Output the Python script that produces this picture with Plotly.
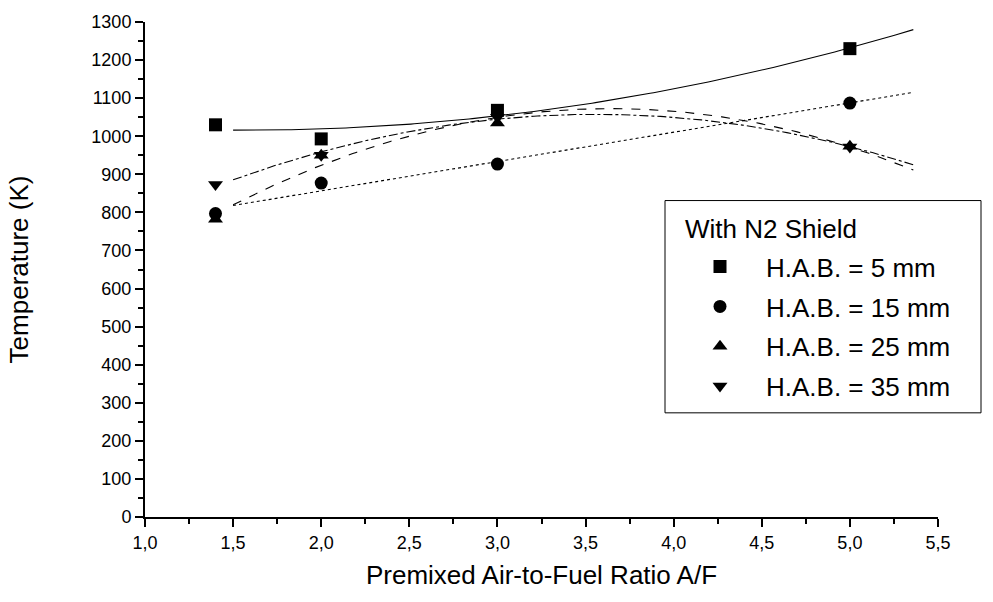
import numpy as np
import plotly.graph_objects as go

afr = [1.4, 2.0, 3.0, 5.0]
t_5mm = [1030, 993, 1068, 1230]
t_15mm = [797, 877, 927, 1087]
t_25mm = [782, 950, 1035, 974]
t_35mm = [873, 950, 1050, 972]

series_names = ["H.A.B. = 5 mm", "H.A.B. = 15 mm", "H.A.B. = 25 mm", "H.A.B. = 35 mm"]
series_vals = [t_5mm, t_15mm, t_25mm, t_35mm]
symbols = ["square", "circle", "triangle-up", "triangle-down"]
fit_orders = [2, 1, 2, 2]
fit_dashes = ["solid", "dot", "dash", "dashdot"]
fit_range = [1.5, 5.36]
legend_title = "With N2 Shield"

x_tickvals = [1.0, 1.5, 2.0, 2.5, 3.0, 3.5, 4.0, 4.5, 5.0, 5.5]
x_ticktext = ["1,0", "1,5", "2,0", "2,5", "3,0", "3,5", "4,0", "4,5", "5,0", "5,5"]

FONT = "Liberation Sans, Arial, sans-serif"

# plot area in pixels: x 145..938, y 18..517
PX0, PW, PY0, PH = 145, 793, 517, 499
def px(xp):
    return (xp - PX0) / PW
def py(yp):
    return (PY0 - yp) / PH

fig = go.Figure()

xf = np.linspace(fit_range[0], fit_range[1], 200)
for vals, order, dash in zip(series_vals, fit_orders, fit_dashes):
    coef = np.polyfit(afr, vals, order)
    fig.add_trace(go.Scatter(x=xf, y=np.polyval(coef, xf), mode="lines",
                             line=dict(color="black", width=1.1, dash=dash),
                             showlegend=False, hoverinfo="skip"))

for i, (name, vals, sym) in enumerate(zip(series_names, series_vals, symbols)):
    fig.add_trace(go.Scatter(x=afr, y=vals, mode="markers", name=name,
                             legendgroup=f"g{i}",
                             marker=dict(symbol=sym, size=13, color="black")))

fig.update_layout(
    width=993, height=602,
    margin=dict(l=145, r=55, t=18, b=85),
    plot_bgcolor="white", paper_bgcolor="white",
    font=dict(family=FONT, color="black", size=18),
    legend=dict(
        x=px(674), y=py(241), xanchor="left", yanchor="top",
        font=dict(size=26),
        bgcolor="rgba(0,0,0,0)",
        traceorder="grouped", tracegroupgap=3,
        itemwidth=82,
    ),
    shapes=[dict(type="rect", xref="paper", yref="paper",
                 x0=px(665), x1=px(981), y0=py(412), y1=py(198),
                 line=dict(color="black", width=1), fillcolor="rgba(0,0,0,0)")],
    annotations=[dict(text=legend_title, xref="paper", yref="paper",
                      x=px(683), y=py(227), xanchor="left", yanchor="middle",
                      showarrow=False, font=dict(size=26))],
)

fig.update_xaxes(
    range=[1.0, 5.5], tickvals=x_tickvals, ticktext=x_ticktext,
    showgrid=False, zeroline=False, showline=True, linecolor="black", linewidth=2,
    ticks="outside", ticklen=8, tickwidth=2, tickcolor="black",
    minor=dict(ticks="outside", ticklen=5, tickwidth=1.5, tickcolor="black", dtick=0.25),
    title=dict(text="Premixed Air-to-Fuel Ratio A/F", font=dict(size=26), standoff=14),
    tickfont=dict(size=18),
)
fig.update_yaxes(
    range=[0, 1300], dtick=100,
    showgrid=False, zeroline=False, showline=True, linecolor="black", linewidth=2,
    ticks="outside", ticklen=8, tickwidth=2, tickcolor="black",
    minor=dict(ticks="outside", ticklen=5, tickwidth=1.5, tickcolor="black", dtick=50),
    title=dict(text="Temperature (K)", font=dict(size=26), standoff=55),
    tickfont=dict(size=18),
)

fig.write_html("out.html")
